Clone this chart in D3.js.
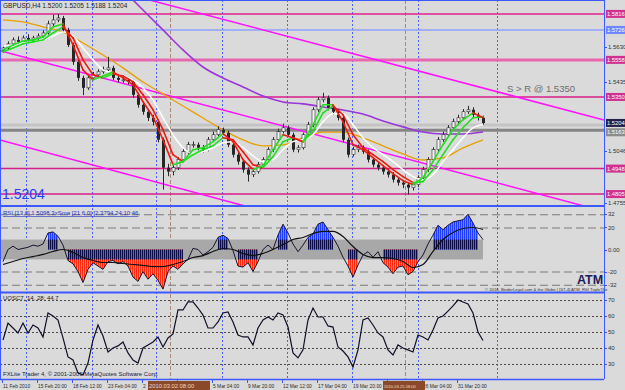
<!DOCTYPE html>
<html>
<head>
<meta charset="utf-8">
<script src="https://cdn.jsdelivr.net/npm/d3@7"></script>
<style>
  body { margin: 0; background: #dadada; }
  svg { display: block; }
  text { font-family: "Liberation Sans", Arial, sans-serif; }
</style>
</head>
<body>
<div id="container"></div>
<script>
// ---- values ----
const firstOpen = 1.5612;
const closes = [
  1.5625,1.5648,1.5670,1.5659,1.5681,1.5670,1.5681,1.5692,1.5709,1.5760,
  1.5782,1.5793,1.5726,1.5642,1.5547,1.5457,1.5401,1.5457,1.5474,1.5491,
  1.5502,1.5513,1.5457,1.5446,1.5446,1.5435,1.5362,1.5306,1.5267,1.5233,
  1.5211,1.5110,1.4953,1.4931,1.4953,1.4998,1.5043,1.5082,1.5082,1.5065,
  1.5054,1.5110,1.5138,1.5166,1.5149,1.5082,1.5026,1.4987,1.4942,1.4914,
  1.4931,1.4970,1.4998,1.5054,1.5110,1.5155,1.5177,1.5138,1.5054,1.5065,
  1.5138,1.5194,1.5278,1.5334,1.5345,1.5289,1.5267,1.5233,1.5110,1.5026,
  1.5054,1.5065,1.5043,1.4998,1.4970,1.4953,1.4931,1.4914,1.4886,1.4869,
  1.4858,1.4841,1.4858,1.4897,1.4942,1.4998,1.5054,1.5110,1.5138,1.5177,
  1.5211,1.5233,1.5267,1.5278,1.5250,1.5233,1.5204];
const highs = [
  1.5642,1.5662,1.5684,1.5690,1.5695,1.5702,1.5693,1.5706,1.5724,1.5778,
  1.5812,1.5816,1.5805,1.5738,1.5655,1.5560,1.5470,1.5468,1.5490,1.5505,
  1.5520,1.5575,1.5525,1.5470,1.5462,1.5458,1.5448,1.5375,1.5320,1.5280,
  1.5250,1.5224,1.5122,1.4975,1.4968,1.5012,1.5058,1.5098,1.5100,1.5095,
  1.5080,1.5125,1.5155,1.5185,1.5178,1.5160,1.5095,1.5040,1.5000,1.4955,
  1.4945,1.4985,1.5012,1.5068,1.5125,1.5172,1.5200,1.5190,1.5150,1.5080,
  1.5150,1.5210,1.5292,1.5350,1.5373,1.5358,1.5302,1.5280,1.5245,1.5122,
  1.5070,1.5082,1.5078,1.5055,1.5012,1.4985,1.4968,1.4945,1.4928,1.4900,
  1.4885,1.4872,1.4870,1.4910,1.4958,1.5012,1.5068,1.5125,1.5155,1.5192,
  1.5228,1.5250,1.5282,1.5300,1.5292,1.5262,1.5245];
const lows = [
  1.5598,1.5615,1.5637,1.5645,1.5650,1.5660,1.5662,1.5671,1.5683,1.5700,
  1.5748,1.5770,1.5712,1.5630,1.5530,1.5440,1.5360,1.5390,1.5445,1.5462,
  1.5480,1.5495,1.5445,1.5432,1.5430,1.5420,1.5345,1.5290,1.5250,1.5215,
  1.5190,1.5095,1.4830,1.4905,1.4910,1.4940,1.4985,1.5030,1.5065,1.5050,
  1.5038,1.5045,1.5100,1.5128,1.5135,1.5068,1.5010,1.4970,1.4925,1.4875,
  1.4900,1.4920,1.4958,1.4988,1.5042,1.5098,1.5145,1.5125,1.5040,1.5038,
  1.5055,1.5125,1.5180,1.5265,1.5320,1.5275,1.5250,1.5218,1.5095,1.5010,
  1.5015,1.5040,1.5030,1.4982,1.4955,1.4938,1.4915,1.4898,1.4870,1.4852,
  1.4838,1.4802,1.4825,1.4845,1.4885,1.4930,1.4985,1.5042,1.5098,1.5125,
  1.5165,1.5198,1.5220,1.5255,1.5238,1.5218,1.5195];

// moving averages, one value every 2nd bar
const fastMA = [
  1.5614,1.5642,1.5664,1.5670,1.5687,1.5743,1.5760,1.5642,1.5502,1.5446,
  1.5468,1.5491,1.5457,1.5418,1.5323,1.5239,1.5110,1.4970,1.4987,1.5054,
  1.5065,1.5099,1.5144,1.5099,1.4998,1.4942,1.4964,1.5054,1.5138,1.5121,
  1.5099,1.5194,1.5306,1.5306,1.5211,1.5082,1.5054,1.5009,1.4964,1.4920,
  1.4880,1.4858,1.4897,1.4987,1.5082,1.5166,1.5222,1.5261,1.5233];
const midMA = [
  1.5603,1.5625,1.5648,1.5659,1.5670,1.5709,1.5743,1.5681,1.5558,1.5474,
  1.5457,1.5480,1.5468,1.5435,1.5362,1.5278,1.5166,1.5026,1.4987,1.5026,
  1.5054,1.5076,1.5121,1.5110,1.5043,1.4970,1.4953,1.5015,1.5099,1.5121,
  1.5099,1.5155,1.5261,1.5300,1.5250,1.5138,1.5065,1.5026,1.4987,1.4942,
  1.4903,1.4869,1.4875,1.4942,1.5026,1.5110,1.5177,1.5233,1.5239];
const slowMA = [
  1.5636,1.5642,1.5653,1.5659,1.5670,1.5692,1.5715,1.5692,1.5625,1.5558,
  1.5502,1.5485,1.5468,1.5446,1.5401,1.5334,1.5233,1.5138,1.5065,1.5032,
  1.5043,1.5065,1.5093,1.5099,1.5065,1.5020,1.4987,1.4998,1.5054,1.5099,
  1.5110,1.5138,1.5211,1.5256,1.5256,1.5194,1.5121,1.5065,1.5026,1.4987,
  1.4942,1.4903,1.4886,1.4914,1.4987,1.5054,1.5121,1.5177,1.5194];
// one value every 4th bar
const orangeMA = [
  1.5782,1.5771,1.5743,1.5714,1.5653,1.5585,1.5513,1.5434,1.5367,1.5299,
  1.5232,1.5165,1.5109,1.5075,1.5081,1.5120,1.5153,1.5153,1.5120,1.5075,
  1.5030,1.4996,1.5008,1.5064,1.5109];
// every 4th bar starting at bar 24
const purpleStart = 24;
const purpleMA = [
  1.5950,1.5838,1.5726,1.5614,1.5518,1.5456,1.5406,1.5355,1.5322,1.5311,
  1.5294,1.5277,1.5254,1.5215,1.5182,1.5153,1.5142,1.5142,1.5153];

// horizontal levels and trend lines (bar index, price)
const levelPrices = [1.5816, 1.5726, 1.5558, 1.5350, 1.4948, 1.4805];
const bidPrice = 1.5204;
const greyLevel = 1.5163;
const trendLines = [
  [[30.8, 1.5883], [116.4, 1.5249]],
  [[0.4, 1.5602], [115.4, 1.4744]],
  [[-0.6, 1.5109], [48.4, 1.4738]]
];
const priceTicks = [1.5825, 1.5630, 1.5530, 1.5435, 1.5240, 1.5046, 1.4850, 1.4755];

// RSI histogram oscillator, one value per bar
const rsiValues = [
  -11,0,3,0,1,2,4,3,5,15,
  16,12,4,-10,-13,-20,-30,-18,-12,-15,
  -18,-11,-10,-13,-11,-15,-25,-29,-20,-27,
  -22,-28,-36,-20,-15,-18,-13,-9,1,0,
  -5,-2,2,11,13,10,-1,-15,-16,-12,
  -20,-11,0,4,0,13,23,15,5,-2,
  4,11,14,23,25,18,11,3,-7,-15,
  -25,-14,-5,-2,-7,-2,-12,-16,-22,-16,
  -15,-23,-20,-11,-5,5,13,22,18,22,
  25,26,27,32,24,15,9];
// smoothed signal, every 2nd bar
const rsiSignal = [
  -13.6,-10.9,-8.2,-6.4,-4.5,-1.8,0,-2.7,-7.3,-10,
  -11.8,-11.8,-12.7,-13.6,-14.5,-15.5,-15.5,-13.6,-10.9,-7.3,
  -5.5,-1.8,0.9,0,-3.6,-5.5,-3.6,0,4.5,9.1,
  10.9,14.5,16.4,16.4,11.8,2.7,-4.5,-7.3,-7.3,-8.2,
  -10.9,-16.4,-13.6,-1.8,9.1,15.5,19.1,20,18.2];
const rsiTicks = [32, 20, 0, -20, -32];

// ultimate oscillator, one value per bar
const uoscValues = [
  45.0,55.6,52.5,49.4,55.6,49.4,54.4,52.5,46.9,61.9,
  60.0,57.5,46.3,34.4,32.5,24.4,23.1,30.6,45.0,54.4,
  47.5,37.5,40.0,41.3,43.8,36.9,32.5,30.6,40.0,41.9,
  43.8,46.9,40.6,46.3,48.8,63.8,63.8,68.8,68.8,65.0,
  60.6,52.5,52.5,56.3,61.9,62.5,56.3,48.1,46.9,46.9,
  41.9,52.5,57.5,59.4,57.5,61.9,60.6,53.1,36.9,33.8,
  38.8,57.5,65.0,59.4,59.4,53.8,53.1,40.6,38.1,34.4,
  28.1,38.8,57.5,58.8,54.4,49.4,46.9,38.8,35.6,41.9,
  40.0,38.8,37.5,48.1,46.9,45.0,51.3,58.8,60.0,63.1,
  66.3,70.0,68.8,67.5,61.9,50.0,44.7];
const uoscTicks = [70, 60, 50, 40, 30];

// time axis: one label every 7 bars (null = hidden under a marker box)
const timeLabels = ["11 Feb 2010", "15 Feb 20:00", "18 Feb 12:00", "23 Feb 04:00",
  "25 Feb 20:00", null, "5 Mar 04:00", "9 Mar 20:00", "12 Mar 12:00",
  "17 Mar 04:00", "19 Mar 20:00", null, "26 Mar 04:00", "31 Mar 20:00"];
const separatorBars = [4.6, 17.8, 30.6, 43.8, 56.8, 69.8, 83, 98.8];
const markerBars = [33.4, 80.4];
const markerLabels = ["2010.03.02 08:00", "2010.03.25 08:00"];

// ---- layout ----
const width = 625, height = 390;
const right = 604;
const main = { top: 0, bottom: 206 };
const rsiP = { top: 207, bottom: 292 };
const uoP = { top: 293, bottom: 379 };

const svg = d3.select("#container").append("svg")
  .attr("width", width).attr("height", height);
svg.append("rect").attr("width", width).attr("height", height).attr("fill", "#dadada");

const defs = svg.append("defs");
function clip(id, top, bottom) {
  defs.append("clipPath").attr("id", id).append("rect")
    .attr("x", 0).attr("y", top).attr("width", right).attr("height", bottom - top);
}
clip("clipMain", main.top, main.bottom);
clip("clipRsi", rsiP.top, rsiP.bottom);
clip("clipUo", uoP.top, uoP.bottom);

function stripes(id, c1, c2) {
  const p = defs.append("pattern").attr("id", id)
    .attr("patternUnits", "userSpaceOnUse").attr("width", 2).attr("height", 2);
  p.append("rect").attr("width", 2).attr("height", 2).attr("fill", c2);
  p.append("rect").attr("width", 1).attr("height", 2).attr("fill", c1);
}
stripes("pBlue", "#1f3cff", "#6f86ff");
stripes("pRed", "#ff2a10", "#ff8a6a");
stripes("pNavy", "#0c0c48", "#5a6a9a");

// scales
const x = d3.scaleLinear().domain([0, closes.length - 1]).range([3, 483]);
const y = d3.scaleLinear().domain([1.4738, 1.5894]).range([main.bottom, main.top]);
const yR = d3.scaleLinear().domain([-38.6, 38.6]).range([rsiP.bottom, rsiP.top]);
const yU = d3.scaleLinear().domain([20.6, 74.4]).range([uoP.bottom, uoP.top]);

// vertical separators across all panels
const grid = svg.append("g").attr("id", "separators");
grid.selectAll("line.sep").data(separatorBars).enter().append("line")
  .attr("class", "sep")
  .attr("x1", d => Math.round(x(d)) + 0.5).attr("x2", d => Math.round(x(d)) + 0.5)
  .attr("y1", 0).attr("y2", uoP.bottom)
  .attr("stroke", "#4a63ff").attr("stroke-dasharray", "2,2");
grid.selectAll("line.mark").data(markerBars).enter().append("line")
  .attr("class", "mark")
  .attr("x1", d => Math.round(x(d)) + 0.5).attr("x2", d => Math.round(x(d)) + 0.5)
  .attr("y1", 0).attr("y2", uoP.bottom)
  .attr("stroke", "#a88878").attr("stroke-dasharray", "4,2");

// ---- main price panel ----
const mainG = svg.append("g").attr("clip-path", "url(#clipMain)");

const levelColors = ["#e0208f", "#8ea2ff", "#e868b0", "#d81e8a", "#d81e8a", "#d81e8a"];
const levelWidths = [1.5, 1.5, 3, 1.5, 1.5, 1.5];
mainG.selectAll("line.level").data(levelPrices).enter().append("line")
  .attr("class", "level")
  .attr("x1", 0).attr("x2", right)
  .attr("y1", d => y(d)).attr("y2", d => y(d))
  .attr("stroke", (d, i) => levelColors[i]).attr("stroke-width", (d, i) => levelWidths[i]);

mainG.append("line").attr("x1", 0).attr("x2", right)
  .attr("y1", y(bidPrice) + 2).attr("y2", y(bidPrice) + 2)
  .attr("stroke", "#c4c4c4").attr("stroke-width", 3);
mainG.append("line").attr("x1", 0).attr("x2", right)
  .attr("y1", y(greyLevel)).attr("y2", y(greyLevel))
  .attr("stroke", "#858585").attr("stroke-width", 3);

// trend lines, extended across the panel
mainG.selectAll("line.trend").data(trendLines).enter().append("line")
  .attr("class", "trend")
  .attr("x1", 0).attr("x2", right)
  .attr("y1", d => {
    const s = (d[1][1] - d[0][1]) / (d[1][0] - d[0][0]);
    return y(d[0][1] + s * (x.invert(0) - d[0][0]));
  })
  .attr("y2", d => {
    const s = (d[1][1] - d[0][1]) / (d[1][0] - d[0][0]);
    return y(d[0][1] + s * (x.invert(right) - d[0][0]));
  })
  .attr("stroke", "#ff10ff").attr("stroke-width", 1.5);

// long moving averages
const purplePts = purpleMA.map((v, k) => [purpleStart + 4 * k, v]);
const orangePts = orangeMA.map((v, k) => [4 * k, v]);
const lineGen = d3.line().x(d => x(d[0])).y(d => y(d[1])).curve(d3.curveMonotoneX);
mainG.append("path").attr("d", lineGen(purplePts))
  .attr("fill", "none").attr("stroke", "#9b36d8").attr("stroke-width", 1.6);
mainG.append("path").attr("d", lineGen(orangePts))
  .attr("fill", "none").attr("stroke", "#e8a000").attr("stroke-width", 1.3);

// candles
const bars = closes.map((c, i) => ({
  i, o: i ? closes[i - 1] : firstOpen, c, h: highs[i], l: lows[i]
}));
const candles = mainG.append("g").attr("id", "candles");
candles.selectAll("line").data(bars).enter().append("line")
  .attr("x1", d => Math.round(x(d.i)) + 0.5).attr("x2", d => Math.round(x(d.i)) + 0.5)
  .attr("y1", d => y(d.h)).attr("y2", d => y(d.l))
  .attr("stroke", "#2a2a2a");
candles.selectAll("rect").data(bars).enter().append("rect")
  .attr("x", d => Math.round(x(d.i)) - 1)
  .attr("y", d => y(Math.max(d.o, d.c)))
  .attr("width", 3)
  .attr("height", d => Math.max(1, Math.abs(y(d.o) - y(d.c))))
  .attr("fill", d => d.c >= d.o ? "#f4f4f4" : "#262626")
  .attr("stroke", d => d.c >= d.o ? "#2a2a2a" : "none")
  .attr("stroke-width", 0.6);

// short moving averages
const slowPts = slowMA.map((v, k) => [2 * k, v]);
mainG.append("path").attr("d", lineGen(slowPts))
  .attr("fill", "none").attr("stroke", "#ffffff").attr("stroke-width", 1.5);

function colouredMA(values) {
  const pts = values.map((v, k) => [2 * k, v]);
  const segs = d3.pairs(pts);
  mainG.append("g").selectAll("line").data(segs).enter().append("line")
    .attr("x1", d => x(d[0][0])).attr("y1", d => y(d[0][1]))
    .attr("x2", d => x(d[1][0])).attr("y2", d => y(d[1][1]))
    .attr("stroke", d => d[1][1] >= d[0][1] ? "#1fe01f" : "#ee1a10")
    .attr("stroke-width", 1.6).attr("stroke-linecap", "round");
}
colouredMA(midMA);
colouredMA(fastMA);

// texts in the main panel
svg.append("text").attr("x", 3).attr("y", 8).attr("font-size", 6.5).attr("fill", "#1a1a1a")
  .text("GBPUSD,H4  1.5200 1.5205 1.5188 1.5204");
svg.append("text").attr("x", 507).attr("y", 92).attr("font-size", 9.5).attr("fill", "#6e6e6e")
  .text("S > R  @ 1.5350");
svg.append("text").attr("x", 2).attr("y", 199).attr("font-size", 14).attr("fill", "#1d3dff")
  .text(bidPrice.toFixed(4));

// ---- RSI panel ----
const rsiG = svg.append("g").attr("clip-path", "url(#clipRsi)");
rsiG.append("rect").attr("x", 0).attr("width", x(closes.length - 1))
  .attr("y", yR(9)).attr("height", yR(-9) - yR(9)).attr("fill", "#a8a8a8");
rsiG.selectAll("line.dash").data(rsiTicks.filter(d => d !== 0)).enter().append("line")
  .attr("class", "dash")
  .attr("x1", 0).attr("x2", right).attr("y1", d => yR(d) + 0.5).attr("y2", d => yR(d) + 0.5)
  .attr("stroke", "#7a7a7a").attr("stroke-width", 1.2).attr("stroke-dasharray", "8,4");

const rsiPts = rsiValues.map((v, i) => ({ i, v }));
const histArea = test => d3.area().defined(test)
  .x(d => x(d.i)).y0(yR(0)).y1(d => yR(d.v));
const upArea = histArea(d => d.v > 9)(rsiPts);
const downArea = histArea(d => d.v < -9)(rsiPts);
rsiG.append("path").attr("d", upArea).attr("fill", "url(#pBlue)");
rsiG.append("path").attr("d", downArea).attr("fill", "url(#pRed)");
defs.append("clipPath").attr("id", "clipBand").append("rect")
  .attr("x", 0).attr("width", right).attr("y", yR(9)).attr("height", yR(-9) - yR(9));
const bandG = rsiG.append("g").attr("clip-path", "url(#clipBand)");
bandG.append("path").attr("d", upArea).attr("fill", "url(#pNavy)");
bandG.append("path").attr("d", downArea).attr("fill", "url(#pNavy)");

rsiG.append("path")
  .attr("d", d3.line().x(d => x(d.i)).y(d => yR(d.v))(rsiPts))
  .attr("fill", "none").attr("stroke", "#151530").attr("stroke-width", 1);
rsiG.append("path")
  .attr("d", d3.line().x((d, k) => x(2 * k)).y(d => yR(d)).curve(d3.curveMonotoneX)(rsiSignal))
  .attr("fill", "none").attr("stroke", "#101010").attr("stroke-width", 1.2);

svg.append("text").attr("x", 3).attr("y", 215).attr("font-size", 6).attr("fill", "#1f2fbf")
  .attr("text-decoration", "underline")
  .text("RSI [13,0] 1.5098  3xSma [21,6.0]  [2.3794 24:10:46");
svg.append("text").attr("x", 577).attr("y", 283.5).attr("font-size", 12.5).attr("font-weight", "bold")
  .attr("fill", "#1c1c5c").text("ATM");
svg.append("text").attr("x", 485).attr("y", 291).attr("font-size", 4.2).attr("fill", "#333")
  .text("© 2010, BinderLegal.com & the Globe | [ST-4] ATM_RSI TripleTbx");

// ---- UOSC panel ----
const uoG = svg.append("g").attr("clip-path", "url(#clipUo)");
uoG.selectAll("line").data(uoscTicks).enter().append("line")
  .attr("x1", 0).attr("x2", right).attr("y1", d => yU(d) + 0.5).attr("y2", d => yU(d) + 0.5)
  .attr("stroke", "#4a4a4a").attr("stroke-dasharray", "2,2");
uoG.append("path")
  .attr("d", d3.line().x((d, i) => x(i)).y(d => yU(d))(uoscValues))
  .attr("fill", "none").attr("stroke", "#101028").attr("stroke-width", 1.2);
svg.append("text").attr("x", 3).attr("y", 300).attr("font-size", 6).attr("fill", "#202020")
  .text("UOSC7, 14, 28: " + uoscValues[uoscValues.length - 1]);
svg.append("text").attr("x", 3).attr("y", 376).attr("font-size", 6).attr("fill", "#202040")
  .text("FXLite Trader 4, © 2001-2009 MetaQuotes Software Corp.");

// ---- frames ----
const frame = svg.append("g").attr("stroke", "#3e58ff").attr("fill", "none");
frame.append("line").attr("x1", 0).attr("x2", right).attr("y1", 0.5).attr("y2", 0.5);
frame.append("line").attr("x1", 0.5).attr("x2", 0.5).attr("y1", 0).attr("y2", uoP.bottom);
frame.append("line").attr("x1", right + 0.5).attr("x2", right + 0.5).attr("y1", 0).attr("y2", uoP.bottom);
frame.append("line").attr("x1", 0).attr("x2", right).attr("y1", 206).attr("y2", 206).attr("stroke-width", 2);
frame.append("line").attr("x1", 0).attr("x2", right).attr("y1", 292.5).attr("y2", 292.5).attr("stroke-width", 2);
frame.append("line").attr("x1", 0).attr("x2", right).attr("y1", 379.5).attr("y2", 379.5).attr("stroke-width", 1.5);

// ---- right axis labels ----
const axisG = svg.append("g").attr("font-size", 6).attr("fill", "#333");
function axisLabel(yPos, txt) {
  axisG.append("line").attr("x1", right).attr("x2", right + 3)
    .attr("y1", Math.round(yPos) + 0.5).attr("y2", Math.round(yPos) + 0.5).attr("stroke", "#3e58ff");
  axisG.append("text").attr("x", right + 4).attr("y", yPos + 2.2).text(txt);
}
const boxPrices = levelPrices.concat([bidPrice, greyLevel]);
priceTicks
  .filter(p => boxPrices.every(b => Math.abs(y(p) - y(b)) > 8.5))
  .forEach(p => axisLabel(y(p), p.toFixed(4)));
rsiTicks.forEach(v => axisLabel(yR(v), v === 0 ? "0.00" : String(v)));
uoscTicks.forEach(v => axisLabel(yU(v), String(v)));

function boxLabel(yPos, txt, fill) {
  axisG.append("rect").attr("x", right + 2).attr("y", yPos - 4)
    .attr("width", 19).attr("height", 8).attr("fill", fill);
  axisG.append("text").attr("x", right + 3).attr("y", yPos + 2.2)
    .attr("font-size", 5.8).attr("fill", "#fff").text(txt);
}
levelPrices.forEach((p, i) => boxLabel(y(p), p.toFixed(4), i === 1 ? "#6f86ff" : "#d0308f"));
boxLabel(y(greyLevel) + 2, greyLevel.toFixed(4), "#8c8c8c");
boxLabel(y(bidPrice), bidPrice.toFixed(4), "#22224a");

// ---- time axis ----
const timeG = svg.append("g").attr("font-size", 4.9).attr("fill", "#2a2a2a");
const boxW = [62, 42];
const boxL = markerBars.map(b => x(b) - 22);
// visible strips of the axis between the two marker boxes
const strips = [[0, boxL[0]], [boxL[0] + boxW[0], boxL[1]], [boxL[1] + boxW[1], right]];
const timeClip = defs.append("clipPath").attr("id", "clipTime");
strips.forEach(s => timeClip.append("rect")
  .attr("x", s[0]).attr("y", 380).attr("width", s[1] - s[0]).attr("height", 10));
const timeText = timeG.append("g").attr("clip-path", "url(#clipTime)");
timeLabels.forEach((t, k) => {
  const px = x(7 * k) - 1;
  timeG.append("line").attr("x1", Math.round(px) + 0.5).attr("x2", Math.round(px) + 0.5)
    .attr("y1", 379).attr("y2", 383).attr("stroke", "#3e58ff");
  if (!t) return;
  const stripEnd = strips.find(s => px >= s[0] && px < s[1]);
  // text that would run under a marker box keeps only its visible start
  const full = timeText.append("text").attr("x", px + 1).attr("y", 387.5).text(t);
  if (stripEnd && px + 1 + full.node().getComputedTextLength() > stripEnd[1]) {
    let s = t;
    while (s.length && px + 1 + full.node().getComputedTextLength() > stripEnd[1]) {
      s = s.slice(0, -1).trimEnd();
      full.text(s);
    }
  }
});
markerBars.forEach((b, k) => {
  timeG.append("rect").attr("x", boxL[k]).attr("y", 381).attr("width", boxW[k]).attr("height", 9)
    .attr("fill", "#8a4a2a");
  timeG.append("text").attr("x", boxL[k] + 1).attr("y", 388)
    .attr("font-size", k === 0 ? 5.8 : 4.1).attr("fill", "#f0d8c8").text(markerLabels[k]);
});
</script>
</body>
</html>
